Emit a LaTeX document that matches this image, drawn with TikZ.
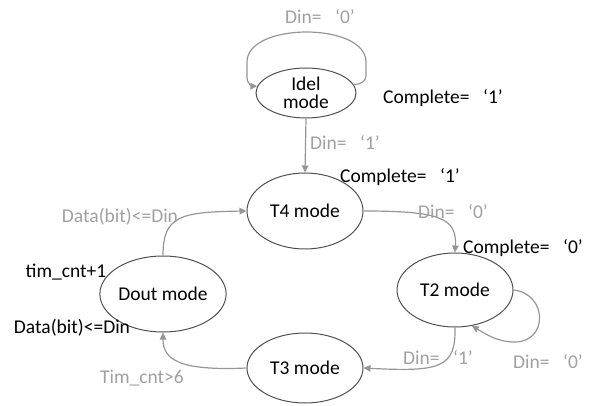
\documentclass[tikz,border=0pt]{standalone}
\usepackage{fontspec}
\setmainfont{Carlito}
\usetikzlibrary{shapes.geometric,arrows.meta}
\definecolor{edgegray}{RGB}{150,150,150}
\definecolor{labelgray}{RGB}{160,160,160}
\definecolor{rimgray}{RGB}{80,80,80}
\tikzset{
  state/.style={ellipse, draw=rimgray, line width=1pt, inner sep=0pt,
    font=\fontsize{19.5}{22}\selectfont},
  trans/.style={draw=edgegray, line width=1.2pt,
    -{Triangle[length=7pt,width=6.5pt]}},
  cond/.style={text=labelgray, inner sep=0pt, font=\fontsize{19.5}{22}\selectfont},
  act/.style={text=black, inner sep=0pt, font=\fontsize{19.5}{22}\selectfont}
}
\newcommand{\gapq}{\hspace{0.7em}}
\begin{document}
\begin{tikzpicture}[x=1pt,y=-1pt]
\useasboundingbox (0,0) rectangle (592,406);

% states
\node[state, minimum width=100pt, minimum height=50pt, align=center] (idel) at (306,93) {Idel\\[-4pt]mode};
\node[state, minimum width=116pt, minimum height=76pt] (t4) at (305,211) {T4 mode};
\node[state, minimum width=116pt, minimum height=74pt] (t2) at (455,290) {T2 mode};
\node[state, minimum width=116pt, minimum height=70pt] (t3) at (305,368) {T3 mode};
\node[state, minimum width=116pt, minimum height=76pt] (dout) at (163,294) {Dout mode};

% transitions
\draw[trans] (idel.10) to[out=0,in=-90] (366,76) -- (366,62)
  .. controls (366,22) and (247,22) .. (247,62) -- (247,78)
  to[out=-90,in=180] (idel.172);
\draw[trans] (idel.south) -- (t4.north);
\draw[trans] (t4.east) .. controls (440,211) and (457,218) .. (t2.north);
\draw[trans] (t2.east) .. controls (548,294) and (548,342) .. (515,342) .. controls (497,342) and (486,334) .. (t2.-65);
\draw[trans] (t2.south) .. controls (456,368) and (440,372) .. (t3.east);
\draw[trans] (t3.west) .. controls (180,371) and (163,360) .. (dout.south);
\draw[trans] (dout.north) .. controls (163,216) and (180,212) .. (t4.west);

% transition conditions
\node[cond] (c1) at (320,17) {Din=\gapq‘0’};
\node[cond] (c2) at (345,142) {Din=\gapq‘1’};
\node[cond] (c3) at (453,212) {Din=\gapq‘0’};
\node[cond] (c4) at (548,362) {Din=\gapq‘0’};
\node[cond] (c5) at (438,357) {Din=\gapq‘1’};
\node[cond] (c6) at (142,378) {Tim\_cnt>6};
\node[cond] (c7) at (120,217) {Data(bit)<=Din};

% state outputs
\node[act] (a1) at (443,98) {Complete=\gapq‘1’};
\node[act] (a2) at (400,177) {Complete=\gapq‘1’};
\node[act] (a3) at (523,248) {Complete=\gapq‘0’};
\node[act] (a4) at (66,272) {tim\_cnt+1};
\node[act] (a5) at (72,328) {Data(bit)<=Din};
\end{tikzpicture}
\end{document}
